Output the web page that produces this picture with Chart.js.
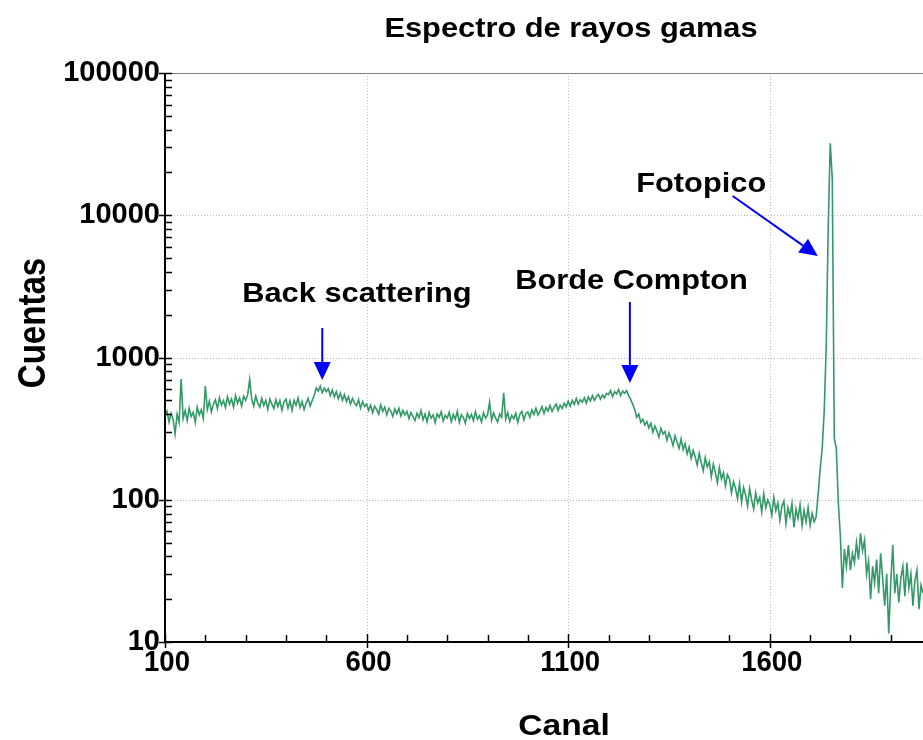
<!DOCTYPE html>
<html>
<head>
<meta charset="utf-8">
<script src="https://cdn.jsdelivr.net/npm/chart.js@4"></script>
<style>
  body { margin: 0; background: #fff; }
  #caja { width: 923px; height: 740px; }
</style>
</head>
<body>
<div id="caja"><canvas id="espectro"></canvas></div>
<script>
// Canales: de 100 a 1980, uno cada 5
const canalInicio = 100;
const pasoCanal = 5;

const cuentasBajas = [ // 100 - 595
  395, 420, 352, 405, 368, 290, 400, 350, 705, 372, 425, 360, 440, 385, 412, 350, 448, 395, 430, 372,
  630, 430, 492, 415, 470, 505, 438, 520, 462, 498, 445, 530, 470, 512, 448, 540, 478, 520, 455, 535,
  500, 548, 700, 510, 455, 535, 480, 448, 515, 460, 500, 432, 510, 470, 438, 505, 452, 498, 425, 488,
  510, 440, 495, 425, 500, 462, 520, 445, 490, 430, 478, 515, 455, 498, 540, 610, 580, 628, 565, 610,
  575, 605, 540, 590, 530, 575, 512, 560, 500, 548, 490, 530, 470, 515, 480, 458, 505, 440, 490, 452
];
const cuentasMedias = [ // 600 - 1295
  470, 425, 462, 410, 455, 430, 400, 465, 418, 448, 395, 440, 420, 385, 435, 402, 440, 388, 425, 395,
  418, 372, 410, 385, 360, 405, 378, 425, 365, 400, 352, 410, 375, 395, 348, 402, 380, 415, 358, 392,
  375, 412, 355, 398, 368, 418, 350, 395, 378, 345, 405, 372, 398, 360, 415, 368, 390, 352, 408, 375,
  395, 485, 362, 408, 375, 352, 400, 380, 565, 368, 410, 355, 392, 372, 405, 350, 398, 418, 365, 402,
  415, 380, 428, 398, 440, 395, 418, 452, 405, 445, 420, 460, 418, 448, 470, 425, 462, 438, 478, 450,
  492, 455, 500, 468, 515, 470, 505, 485, 520, 478, 528, 495, 540, 500, 532, 550, 510, 545, 520, 560,
  548, 585, 530, 575, 555, 595, 540, 580, 560, 585, 540, 505, 470, 430, 380, 400, 350, 368, 335, 355
];
const cuentasCompton = [ // 1300 - 1715
  320, 345, 298, 330, 305, 275, 318, 290, 302, 262, 295, 270, 240, 282, 255, 230, 268, 225, 248, 210,
  235, 195, 222, 200, 175, 212, 182, 160, 198, 170, 185, 145, 178, 155, 132, 168, 140, 155, 125, 150,
  140, 112, 134, 120, 102, 130, 96, 122, 108, 90, 120, 100, 86, 112, 95, 104, 82, 110, 88, 100,
  92, 78, 104, 84, 95, 72, 90, 98, 68, 88, 76, 94, 64, 86, 74, 92, 66, 84, 70, 88,
  66, 80, 70, 76
];
const cuentasPico = [ // 1720 - 1775
  110, 165, 230, 420, 1200, 8500, 32000, 18000, 270, 230, 95, 56
];
const cuentasCola = [ // 1780 - 1980
  24, 45, 34, 48,
  32, 42, 36, 50, 38, 58, 44, 52, 30, 37, 20, 34, 26, 38, 22, 42, 28, 18, 30, 11.5,
  26, 48, 22, 30, 19, 28, 34, 21, 36, 24, 30, 18, 27, 32, 17, 25, 22
];

// Ejes
const ticksX = [100, 600, 1100, 1600];
const ticksY = [10, 100, 1000, 10000, 100000];
const canalMin = 100, canalMax = 1980;

// Flechas y textos (en unidades de canal / cuentas)
const flechas = [
  { desde: [490, 1610], hasta: [490, 695] },
  { desde: [1253, 2455], hasta: [1253, 662] },
  { desde: [1508, 13650], hasta: [1719, 5170] }
];
const etiquetas = [
  { texto: 'Back scattering', canal: 576, cuentas: 2455 },
  { texto: 'Borde Compton', canal: 1257, cuentas: 3031 },
  { texto: 'Fotopico', canal: 1430, cuentas: 14570 }
];

const cuentas = [...cuentasBajas, ...cuentasMedias, ...cuentasCompton, ...cuentasPico, ...cuentasCola];
const puntos = cuentas.map((c, i) => ({ x: canalInicio + i * pasoCanal, y: c }));

const FUENTE = '"Liberation Sans", Arial, sans-serif';

function texto(ctx, str, x, y, size, sx, rot, align, base) {
  ctx.save();
  ctx.translate(x, y);
  if (rot) ctx.rotate(rot);
  ctx.scale(sx, 1);
  ctx.font = 'bold ' + size + 'px ' + FUENTE;
  ctx.fillStyle = '#000';
  ctx.textAlign = align || 'center';
  ctx.textBaseline = base || 'alphabetic';
  ctx.fillText(str, 0, 0);
  ctx.restore();
}

function flecha(ctx, x1, y1, x2, y2) {
  const ang = Math.atan2(y2 - y1, x2 - x1);
  const largo = 18, ancho = 8.5;
  const bx = x2 - largo * Math.cos(ang), by = y2 - largo * Math.sin(ang);
  ctx.strokeStyle = '#0000ff';
  ctx.fillStyle = '#0000ff';
  ctx.lineWidth = 2;
  ctx.beginPath();
  ctx.moveTo(x1, y1);
  ctx.lineTo(bx, by);
  ctx.stroke();
  ctx.beginPath();
  ctx.moveTo(x2, y2);
  ctx.lineTo(bx + ancho * Math.sin(ang), by - ancho * Math.cos(ang));
  ctx.lineTo(bx - ancho * Math.sin(ang), by + ancho * Math.cos(ang));
  ctx.closePath();
  ctx.fill();
}

// Rejilla punteada, ejes con marcas hacia dentro, textos
const decorado = {
  id: 'decorado',
  beforeDatasetsDraw(chart) {
    const { ctx, chartArea: a, scales } = chart;
    const sx = scales.x, sy = scales.y;
    ctx.save();
    ctx.strokeStyle = '#bdbdbd';
    ctx.lineWidth = 1;
    ctx.setLineDash([1, 2]);
    ticksX.slice(1).forEach(v => {
      const px = Math.round(sx.getPixelForValue(v)) + 0.5;
      ctx.beginPath(); ctx.moveTo(px, a.top); ctx.lineTo(px, a.bottom); ctx.stroke();
    });
    ticksY.slice(1, -1).forEach(v => {
      const py = Math.round(sy.getPixelForValue(v)) + 0.5;
      ctx.beginPath(); ctx.moveTo(a.left, py); ctx.lineTo(a.right, py); ctx.stroke();
    });
    ctx.setLineDash([]);
    ctx.strokeStyle = '#808080';
    ctx.beginPath(); ctx.moveTo(a.left, a.top + 0.5); ctx.lineTo(a.right, a.top + 0.5); ctx.stroke();
    ctx.restore();
  },
  afterDatasetsDraw(chart) {
    const { ctx, chartArea: a, scales } = chart;
    const sx = scales.x, sy = scales.y;
    ctx.save();
    ctx.strokeStyle = '#000';
    ctx.lineWidth = 2;
    ctx.beginPath();
    ctx.moveTo(a.left, a.top); ctx.lineTo(a.left, a.bottom); ctx.lineTo(a.right, a.bottom);
    ctx.stroke();

    // marcas eje x
    ctx.lineWidth = 1.5;
    for (let v = 100; v <= canalMax; v += 100) {
      const px = Math.round(sx.getPixelForValue(v)) + 0.5;
      const mayor = ticksX.includes(v);
      ctx.beginPath();
      ctx.moveTo(px, a.bottom + (mayor ? 6 : 0));
      ctx.lineTo(px, a.bottom - (mayor ? 8 : 7));
      ctx.stroke();
    }
    // marcas eje y
    for (let d = 10; d <= 100000; d *= 10) {
      for (let m = 1; m <= 9; m++) {
        const v = d * m;
        if (v > 100000) break;
        const py = Math.round(sy.getPixelForValue(v)) + 0.5;
        ctx.beginPath();
        ctx.moveTo(a.left - (m === 1 ? 6 : 0), py);
        ctx.lineTo(a.left + 7, py);
        ctx.stroke();
      }
    }

    // etiquetas de los ejes
    ticksX.forEach(v => texto(ctx, String(v), sx.getPixelForValue(v) + 2, 648, 29, 0.95, 0, 'center', 'top'));
    ticksY.forEach(v => texto(ctx, String(v), a.left - 5, sy.getPixelForValue(v), 29, 1, 0, 'right', 'middle'));

    // flechas y anotaciones
    flechas.forEach(f => flecha(ctx,
      sx.getPixelForValue(f.desde[0]), sy.getPixelForValue(f.desde[1]),
      sx.getPixelForValue(f.hasta[0]), sy.getPixelForValue(f.hasta[1])));
    etiquetas.forEach(e => texto(ctx, e.texto, sx.getPixelForValue(e.canal), sy.getPixelForValue(e.cuentas), 28, 1.1));

    // titulos
    texto(ctx, 'Espectro de rayos gamas', 571, 37, 28, 1.1);
    texto(ctx, 'Canal', 564, 735, 30, 1.12);
    texto(ctx, 'Cuentas', 45, 323, 38, 0.87, -Math.PI / 2);
    ctx.restore();
  }
};

const ctx = document.getElementById('espectro').getContext('2d');
new Chart(ctx, {
  type: 'line',
  data: {
    datasets: [{
      data: puntos,
      borderColor: '#339966',
      borderWidth: 1.6,
      pointRadius: 0,
      tension: 0,
      fill: false
    }]
  },
  options: {
    responsive: true,
    maintainAspectRatio: false,
    animation: false,
    layout: { padding: { top: 73, right: 0, left: 0, bottom: 0 } },
    plugins: { legend: { display: false }, tooltip: { enabled: false } },
    scales: {
      x: {
        type: 'linear', min: canalMin, max: canalMax,
        ticks: { display: false },
        grid: { display: false },
        border: { display: false },
        afterFit: s => { s.height = 98; }
      },
      y: {
        type: 'logarithmic', min: 10, max: 100000,
        ticks: { display: false },
        grid: { display: false },
        border: { display: false },
        afterFit: s => { s.width = 165; }
      }
    }
  },
  plugins: [decorado]
});
</script>
</body>
</html>
